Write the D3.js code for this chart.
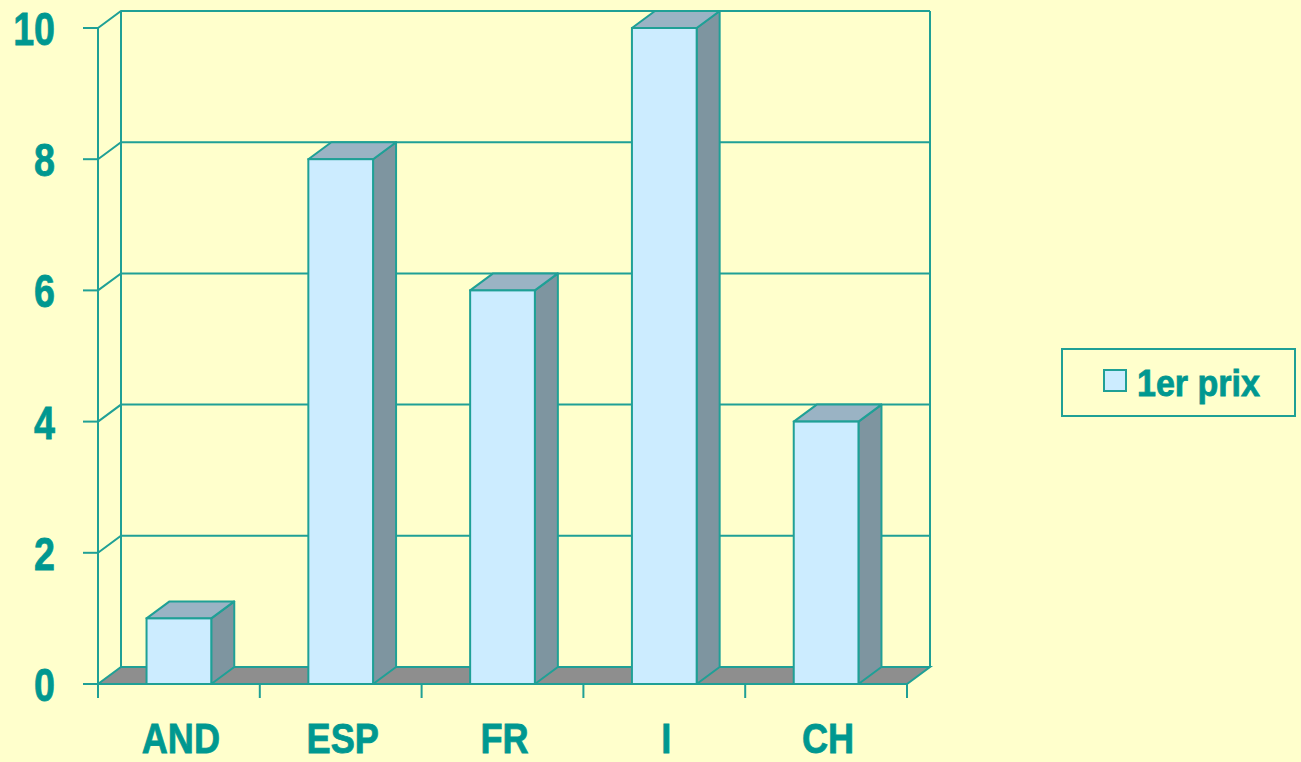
<!DOCTYPE html>
<html>
<head>
  <meta charset="utf-8">
  <title>1er prix</title>
  <style>
    body {margin: 0; background: #FFFFCC;}
    svg  {font-family: "Liberation Sans", Arial, sans-serif; font-weight: bold;}
  </style>
</head>
<body>
  <script src="https://d3js.org/d3.v7.min.js"></script>
  <svg width="1301" height="762"></svg>
  <script>
    // data
    var categories = ["AND", "ESP", "FR", "I", "CH"];
    var values = [1, 8, 6, 10, 4];
    var yTicks = [0, 2, 4, 6, 8, 10];
    var seriesName = "1er prix";

    var teal = "#1FA096", text = "#009890";
    var dx = 23, dy = -17; // depth of the 3d box

    var svg = d3.select("svg");
    svg.append("rect").attr("width", 1301).attr("height", 762).attr("fill", "#FFFFCC");

    var x = d3.scaleBand().domain(categories).range([98, 907]);
    var y = d3.scaleLinear().domain([0, 10]).range([684, 28]);
    var x0 = x.range()[0], x1 = x.range()[1];

    var line = d3.line();

    // narrow text: the original font is condensed
    function label(px, py, str, size, sx, anchor) {
      return svg.append("text")
        .attr("transform", "translate(" + px + "," + py + ") scale(" + sx + ",1)")
        .attr("text-anchor", anchor).attr("font-size", size).attr("fill", text)
        .attr("stroke", text).attr("stroke-width", 0.8).text(str);
    }

    // floor
    svg.append("path")
      .attr("d", line([[x0, y(0)], [x1, y(0)], [x1 + dx, y(0) + dy], [x0 + dx, y(0) + dy]]) + "Z")
      .attr("fill", "#8E8E8E").attr("stroke", teal).attr("stroke-width", 2);

    // grid lines: left wall diagonal + back wall horizontal
    yTicks.forEach(function(t) {
      if (t === 0) return;
      svg.append("path")
        .attr("d", line([[x0, y(t)], [x0 + dx, y(t) + dy], [x1 + dx, y(t) + dy]]))
        .attr("fill", "none").attr("stroke", teal).attr("stroke-width", 2);
    });
    // back wall verticals
    svg.append("line").attr("x1", x0 + dx).attr("x2", x0 + dx)
      .attr("y1", y(10) + dy).attr("y2", y(0) + dy).attr("stroke", teal).attr("stroke-width", 2);
    svg.append("line").attr("x1", x1 + dx).attr("x2", x1 + dx)
      .attr("y1", y(10) + dy).attr("y2", y(0) + dy).attr("stroke", teal).attr("stroke-width", 2);

    // front axes
    svg.append("line").attr("x1", x0).attr("x2", x0).attr("y1", y(10)).attr("y2", y(0))
      .attr("stroke", teal).attr("stroke-width", 2);
    svg.append("line").attr("x1", x0 - 15).attr("x2", x1).attr("y1", y(0)).attr("y2", y(0))
      .attr("stroke", teal).attr("stroke-width", 2);

    // y ticks and labels
    yTicks.forEach(function(t) {
      svg.append("line").attr("x1", x0 - 15).attr("x2", x0).attr("y1", y(t)).attr("y2", y(t))
        .attr("stroke", teal).attr("stroke-width", 2);
      label(55, y(t) + 17, t, 47, 0.8, "end");
    });

    // x ticks and labels
    var bounds = categories.map(function(c) { return x(c); }).concat([x1]);
    bounds.forEach(function(b) {
      svg.append("line").attr("x1", b).attr("x2", b).attr("y1", y(0)).attr("y2", y(0) + 14)
        .attr("stroke", teal).attr("stroke-width", 2);
    });
    categories.forEach(function(c) {
      label(x(c) + x.bandwidth() / 2 + 2, 753, c, 42, 0.86, "middle");
    });

    // 3d bars
    var bw = x.bandwidth() * 0.4;
    var bars = svg.selectAll(".bar").data(categories).enter().append("g");
    bars.each(function(c, i) {
      var g = d3.select(this);
      var l = x(c) + (x.bandwidth() - bw) / 2, r = l + bw;
      var top = y(values[i]), bot = y(0);
      g.append("path")
        .attr("d", line([[r, bot], [r + dx, bot + dy], [r + dx, top + dy], [r, top]]) + "Z")
        .attr("fill", "#7E95A0").attr("stroke", teal).attr("stroke-width", 2).attr("stroke-linejoin", "round");
      g.append("path")
        .attr("d", line([[l, top], [r, top], [r + dx, top + dy], [l + dx, top + dy]]) + "Z")
        .attr("fill", "#9AB3C4").attr("stroke", teal).attr("stroke-width", 2).attr("stroke-linejoin", "round");
      g.append("rect").attr("x", l).attr("y", top).attr("width", bw).attr("height", bot - top)
        .attr("fill", "#CCECFF").attr("stroke", teal).attr("stroke-width", 2);
    });

    // legend
    var lg = svg.append("g");
    lg.append("rect").attr("x", 1062).attr("y", 349).attr("width", 233).attr("height", 67)
      .attr("fill", "none").attr("stroke", teal).attr("stroke-width", 2);
    lg.append("rect").attr("x", 1104).attr("y", 370).attr("width", 22).attr("height", 21)
      .attr("fill", "#CCECFF").attr("stroke", teal).attr("stroke-width", 2);
    label(1137, 396, seriesName, 37, 0.92, "start");
  </script>
</body>
</html>
